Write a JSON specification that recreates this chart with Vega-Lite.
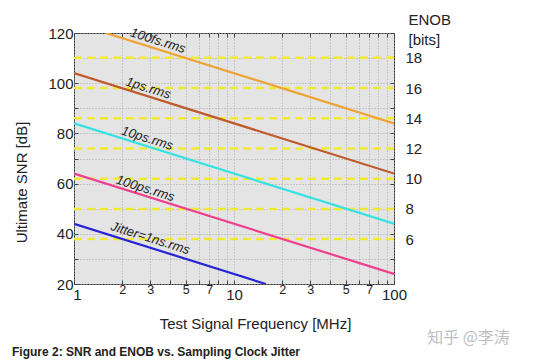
{
  "$schema": "https://vega.github.io/schema/vega-lite/v6.json",
  "width": 320,
  "height": 251,
  "autosize": {"type": "none"},
  "padding": {"left": 74, "top": 33, "right": 163, "bottom": 79},
  "background": "white",
  "config": {
    "font": "Liberation Sans",
    "view": {"fill": "#e4e4e4", "stroke": "#333333", "strokeWidth": 1}
  },
  "title": {
    "text": "Figure 2: SNR and ENOB vs. Sampling Clock Jitter",
    "orient": "bottom",
    "anchor": "start",
    "frame": "bounds",
    "font": "Liberation Sans",
    "fontSize": 12,
    "fontWeight": "bold",
    "color": "#222222",
    "offset": 2,
    "dx": -3
  },
  "datasets": {
    "lines": [
      {"jitter": "100fs.rms", "f": 1.58, "snr": 120},
      {"jitter": "100fs.rms", "f": 100, "snr": 84},
      {"jitter": "1ps.rms", "f": 1, "snr": 104},
      {"jitter": "1ps.rms", "f": 100, "snr": 64},
      {"jitter": "10ps.rms", "f": 1, "snr": 84},
      {"jitter": "10ps.rms", "f": 100, "snr": 44},
      {"jitter": "100ps.rms", "f": 1, "snr": 64},
      {"jitter": "100ps.rms", "f": 100, "snr": 24},
      {"jitter": "1ns.rms", "f": 1, "snr": 44},
      {"jitter": "1ns.rms", "f": 15.8, "snr": 20}
    ],
    "labels": [
      {"jitter": "100fs.rms", "text": "100fs.rms", "f": 3.35, "snr": 116.9},
      {"jitter": "1ps.rms", "text": "1ps.rms", "f": 2.91, "snr": 98.0},
      {"jitter": "10ps.rms", "text": "10ps.rms", "f": 2.87, "snr": 78.0},
      {"jitter": "100ps.rms", "text": "100ps.rms", "f": 2.79, "snr": 58.0},
      {"jitter": "1ns.rms", "text": "Jitter=1ns.rms", "f": 3.0, "snr": 38.2}
    ],
    "enob": [
      {"bits": 6}, {"bits": 8}, {"bits": 10}, {"bits": 12}, {"bits": 14}, {"bits": 16}, {"bits": 18}
    ]
  },
  "layer": [
    {
      "data": {"name": "enob"},
      "mark": {"type": "rule", "color": "#f2ea30", "strokeWidth": 2.5, "strokeDash": [8, 5]},
      "encoding": {
        "y": {
          "field": "bits",
          "type": "quantitative",
          "scale": {"domain": [3.0299, 19.6412], "nice": false, "zero": false},
          "axis": {
            "orient": "right",
            "values": [6, 8, 10, 12, 14, 16, 18],
            "ticks": false,
            "domain": false,
            "grid": false,
            "labelPadding": 11,
            "labelFontSize": 15,
            "labelColor": "#222222",
            "title": ["ENOB", "[bits]"],
            "titleAngle": 0,
            "titleAlign": "left",
            "titleBaseline": "top",
            "titleX": 14,
            "titleY": -21,
            "titleFontSize": 15,
            "titleFontWeight": "normal",
            "titleColor": "#222222",
            "titleLineHeight": 20
          }
        }
      }
    },
    {
      "data": {"name": "lines"},
      "mark": {"type": "line", "strokeWidth": 2.2, "clip": true},
      "encoding": {
        "x": {
          "field": "f",
          "type": "quantitative",
          "scale": {"type": "log", "domain": [1, 100], "nice": false},
          "axis": {
            "orient": "bottom",
            "values": [1, 2, 3, 4, 5, 6, 7, 8, 9, 10, 20, 30, 40, 50, 60, 70, 80, 90, 100],
            "labelExpr": "indexof([1,2,3,5,7,10,100], datum.value) >= 0 ? format(datum.value, 'd') : (indexof([20,30,50,70], datum.value) >= 0 ? format(datum.value / 10, 'd') : '')",
            "labelFontSize": {"condition": {"test": "datum.value == 1 || datum.value == 10 || datum.value == 100", "value": 15}, "value": 12.5},
            "labelPadding": {"condition": {"test": "datum.value == 1 || datum.value == 10 || datum.value == 100", "value": 7}, "value": 3},
            "labelOffset": {"condition": {"test": "datum.value == 1", "value": 3}, "value": 0},
            "labelBaseline": "top",
            "labelColor": "#222222",
            "labelFlush": false,
            "labelOverlap": false,
            "domain": false,
            "tickSize": -4,
            "tickColor": "#444444",
            "grid": true,
            "gridColor": "#a8a8a8",
            "gridDash": [1, 2],
            "title": "Test Signal Frequency [MHz]",
            "titleFontSize": 15,
            "titleFontWeight": "normal",
            "titleColor": "#222222",
            "titleX": 181,
            "titleY": 32,
            "titleBaseline": "top"
          }
        },
        "y": {
          "field": "snr",
          "type": "quantitative",
          "scale": {"domain": [20, 120], "nice": false, "zero": false},
          "axis": {
            "orient": "left",
            "values": [20, 30, 40, 50, 60, 70, 80, 90, 100, 110, 120],
            "labelExpr": "datum.value % 20 == 0 ? datum.label : ''",
            "labelFontSize": 15,
            "labelColor": "#222222",
            "labelPadding": 5,
            "labelFlush": false,
            "labelOverlap": false,
            "domain": false,
            "tickSize": -4,
            "tickColor": "#444444",
            "grid": true,
            "gridColor": "#a8a8a8",
            "gridDash": [1, 2],
            "title": "Ultimate SNR [dB]",
            "titleFontSize": 15,
            "titleFontWeight": "normal",
            "titleColor": "#222222",
            "titleY": 149,
            "titlePadding": 18
          }
        },
        "color": {
          "field": "jitter",
          "type": "nominal",
          "scale": {
            "domain": ["100fs.rms", "1ps.rms", "10ps.rms", "100ps.rms", "1ns.rms"],
            "range": ["#eea232", "#bf5a2c", "#33e2e2", "#ee3f8c", "#2424d6"]
          },
          "legend": null
        }
      }
    },
    {
      "data": {"name": "labels"},
      "mark": {"type": "text", "angle": 17.4, "fontSize": 13, "fontStyle": "italic", "color": "#222222", "align": "center", "baseline": "middle"},
      "encoding": {
        "x": {
          "field": "f",
          "type": "quantitative",
          "scale": {"type": "log", "domain": [1, 100], "nice": false},
          "axis": {
            "orient": "bottom",
            "labels": false,
            "ticks": false,
            "domain": false,
            "grid": false,
            "title": "知乎 @李涛",
            "titleFont": "Noto Sans CJK SC",
            "titleFontSize": 16,
            "titleFontWeight": "normal",
            "titleColor": "#c0c0c0",
            "titleX": 394,
            "titleY": 53,
            "titleAlign": "center",
            "titleBaseline": "middle"
          }
        },
        "y": {
          "field": "snr",
          "type": "quantitative",
          "scale": {"domain": [20, 120], "nice": false, "zero": false},
          "axis": null
        },
        "text": {"field": "text"}
      }
    },
    {
      "data": {"name": "lines"},
      "mark": {"type": "point", "opacity": 0},
      "encoding": {
        "x": {
          "field": "f",
          "type": "quantitative",
          "scale": {"type": "log", "domain": [1, 100], "nice": false},
          "axis": {
            "orient": "top",
            "values": [1, 2, 3, 4, 5, 6, 7, 8, 9, 10, 20, 30, 40, 50, 60, 70, 80, 90, 100],
            "labels": false,
            "domain": false,
            "grid": false,
            "tickSize": -4,
            "tickColor": "#444444",
            "title": null
          }
        },
        "y": {
          "field": "snr",
          "type": "quantitative",
          "scale": {"domain": [20, 120], "nice": false, "zero": false},
          "axis": {
            "orient": "right",
            "values": [20, 30, 40, 50, 60, 70, 80, 90, 100, 110, 120],
            "labels": false,
            "domain": false,
            "grid": false,
            "tickSize": -4,
            "tickColor": "#444444",
            "title": null
          }
        }
      }
    }
  ],
  "resolve": {"scale": {"y": "independent"}, "axis": {"x": "independent", "y": "independent"}}
}
